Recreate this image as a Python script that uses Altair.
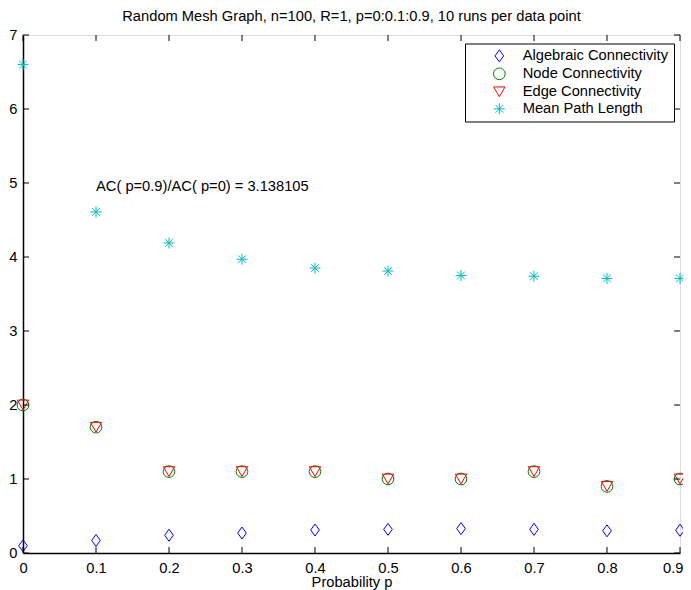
import altair as alt
import pandas as pd

# ---- data ----
p_values = [0.0, 0.1, 0.2, 0.3, 0.4, 0.5, 0.6, 0.7, 0.8, 0.9]
algebraic_connectivity = [0.098, 0.17, 0.24, 0.27, 0.31, 0.32, 0.33, 0.32, 0.30, 0.307]
node_connectivity = [2.0, 1.7, 1.1, 1.1, 1.1, 1.0, 1.0, 1.1, 0.9, 1.0]
edge_connectivity = [2.0, 1.7, 1.1, 1.1, 1.1, 1.0, 1.0, 1.1, 0.9, 1.0]
mean_path_length = [6.60, 4.61, 4.19, 3.97, 3.85, 3.81, 3.75, 3.74, 3.71, 3.71]
series_names = ["Algebraic Connectivity", "Node Connectivity",
                "Edge Connectivity", "Mean Path Length"]
series_colors = ["#0000ff", "#008000", "#ff0000", "#00bfbf"]
x_ticks = [0, 0.1, 0.2, 0.3, 0.4, 0.5, 0.6, 0.7, 0.8, 0.9]
y_ticks = [0, 1, 2, 3, 4, 5, 6, 7]
title_text = "Random Mesh Graph, n=100, R=1,  p=0:0.1:0.9, 10 runs per data point"
x_title = "Probability  p"
annotation_text = ["AC( p=0.9)/AC( p=0) = 3.138105"]
annotation_x = [0.1]
annotation_y = [4.95]

FONT = "Liberation Sans"
FS = 14.7
W, H = 657, 518

rows = []
for name, vals in zip(series_names,
                      [algebraic_connectivity, node_connectivity,
                       edge_connectivity, mean_path_length]):
    for p, v in zip(p_values, vals):
        rows.append({"p": p, "value": v, "series": name})
df = pd.DataFrame(rows)

diamond = "M0,-1L0.72,0L0,1L-0.72,0Z"
circle = "circle"
tri_down = "triangle-down"
asterisk = "M0,-1L0,1M-1,0L1,0M-0.7,-0.7L0.7,0.7M-0.7,0.7L0.7,-0.7"

x_scale = alt.Scale(domain=[0, 0.9], nice=False, zero=False)
y_scale = alt.Scale(domain=[0, 7], nice=False)

last_tick = "datum.value >= 0.89"
x_axis = alt.Axis(values=x_ticks, format="~g", ticks=False, grid=False,
                  domainColor="black", domainWidth=1.5, labelColor="black",
                  labelFont=FONT, labelFontSize=FS, labelPadding=7,
                  labelAlign={"condition": {"test": last_tick, "value": "right"}, "value": "center"},
                  labelOffset={"condition": {"test": last_tick, "value": 3}, "value": 0},
                  titleFont=FONT, titleFontSize=FS, titleFontWeight="normal",
                  titleColor="black", titlePadding=0, labelFlush=False)
y_axis = alt.Axis(values=y_ticks, format="d", ticks=False, grid=False,
                  domainColor="black", domainWidth=1.5, labelColor="black",
                  labelFont=FONT, labelFontSize=FS, labelPadding=6,
                  labelFlush=False)

X = alt.X("p:Q", scale=x_scale, title=x_title, axis=x_axis)
Y = alt.Y("value:Q", scale=y_scale, title=None, axis=y_axis)

points = alt.Chart(df).mark_point(filled=False, strokeWidth=1, opacity=1).encode(
    x=X,
    y=Y,
    color=alt.Color("series:N", sort=series_names,
                    scale=alt.Scale(domain=series_names, range=series_colors),
                    legend=alt.Legend(title=None, orient="none", legendX=442, legendY=8.5,
                                      strokeColor="black", fillColor="white",
                                      padding=5, cornerRadius=0, symbolOffset=22,
                                      labelOffset=16, rowPadding=1,
                                      labelFont=FONT, labelFontSize=FS, labelColor="black",
                                      symbolSize=100, symbolStrokeWidth=1,
                                      symbolFillColor="transparent")),
    shape=alt.Shape("series:N", sort=series_names,
                    scale=alt.Scale(domain=series_names,
                                    range=[diamond, circle, tri_down, asterisk])),
    size=alt.Size("series:N", sort=series_names, legend=None,
                  scale=alt.Scale(domain=series_names, range=[144, 121, 121, 100])),
    order=alt.Order("order:Q"),
).transform_calculate(order="indexof(['Algebraic Connectivity','Node Connectivity','Edge Connectivity','Mean Path Length'], datum.series)")

xt = alt.Chart(pd.DataFrame({"p": x_ticks}))
xticks_bottom = xt.mark_rule(color="black", strokeWidth=1).encode(
    x=X, y=alt.value(H), y2=alt.value(H - 6))
xticks_top = xt.mark_rule(color="black", strokeWidth=1).encode(
    x=X, y=alt.value(0), y2=alt.value(6))

yt = alt.Chart(pd.DataFrame({"value": y_ticks}))
yticks_left = yt.mark_rule(color="black", strokeWidth=1).encode(
    y=Y, x=alt.value(0), x2=alt.value(6))
yticks_right = yt.mark_rule(color="black", strokeWidth=1).encode(
    y=Y, x=alt.value(W), x2=alt.value(W - 6))

annot = alt.Chart(pd.DataFrame({"p": annotation_x, "value": annotation_y,
                                "label": annotation_text})).mark_text(
    align="left", baseline="middle", font=FONT, fontSize=FS, color="black").encode(
    x=X, y=Y, text="label:N")

chart = alt.layer(points, xticks_bottom, xticks_top, yticks_left, yticks_right, annot).properties(
    width=W, height=H,
    title=alt.TitleParams(title_text, font=FONT, fontSize=FS, fontWeight="normal",
                          color="black", frame="group", offset=3),
    autosize=alt.AutoSizeParams(type="none"),
    padding={"left": 15, "top": 27, "right": 3, "bottom": 37},
).configure_view(stroke="black", strokeWidth=1).configure(background="white")

chart.save("out.html", embed_options={"renderer": "svg", "actions": False})
